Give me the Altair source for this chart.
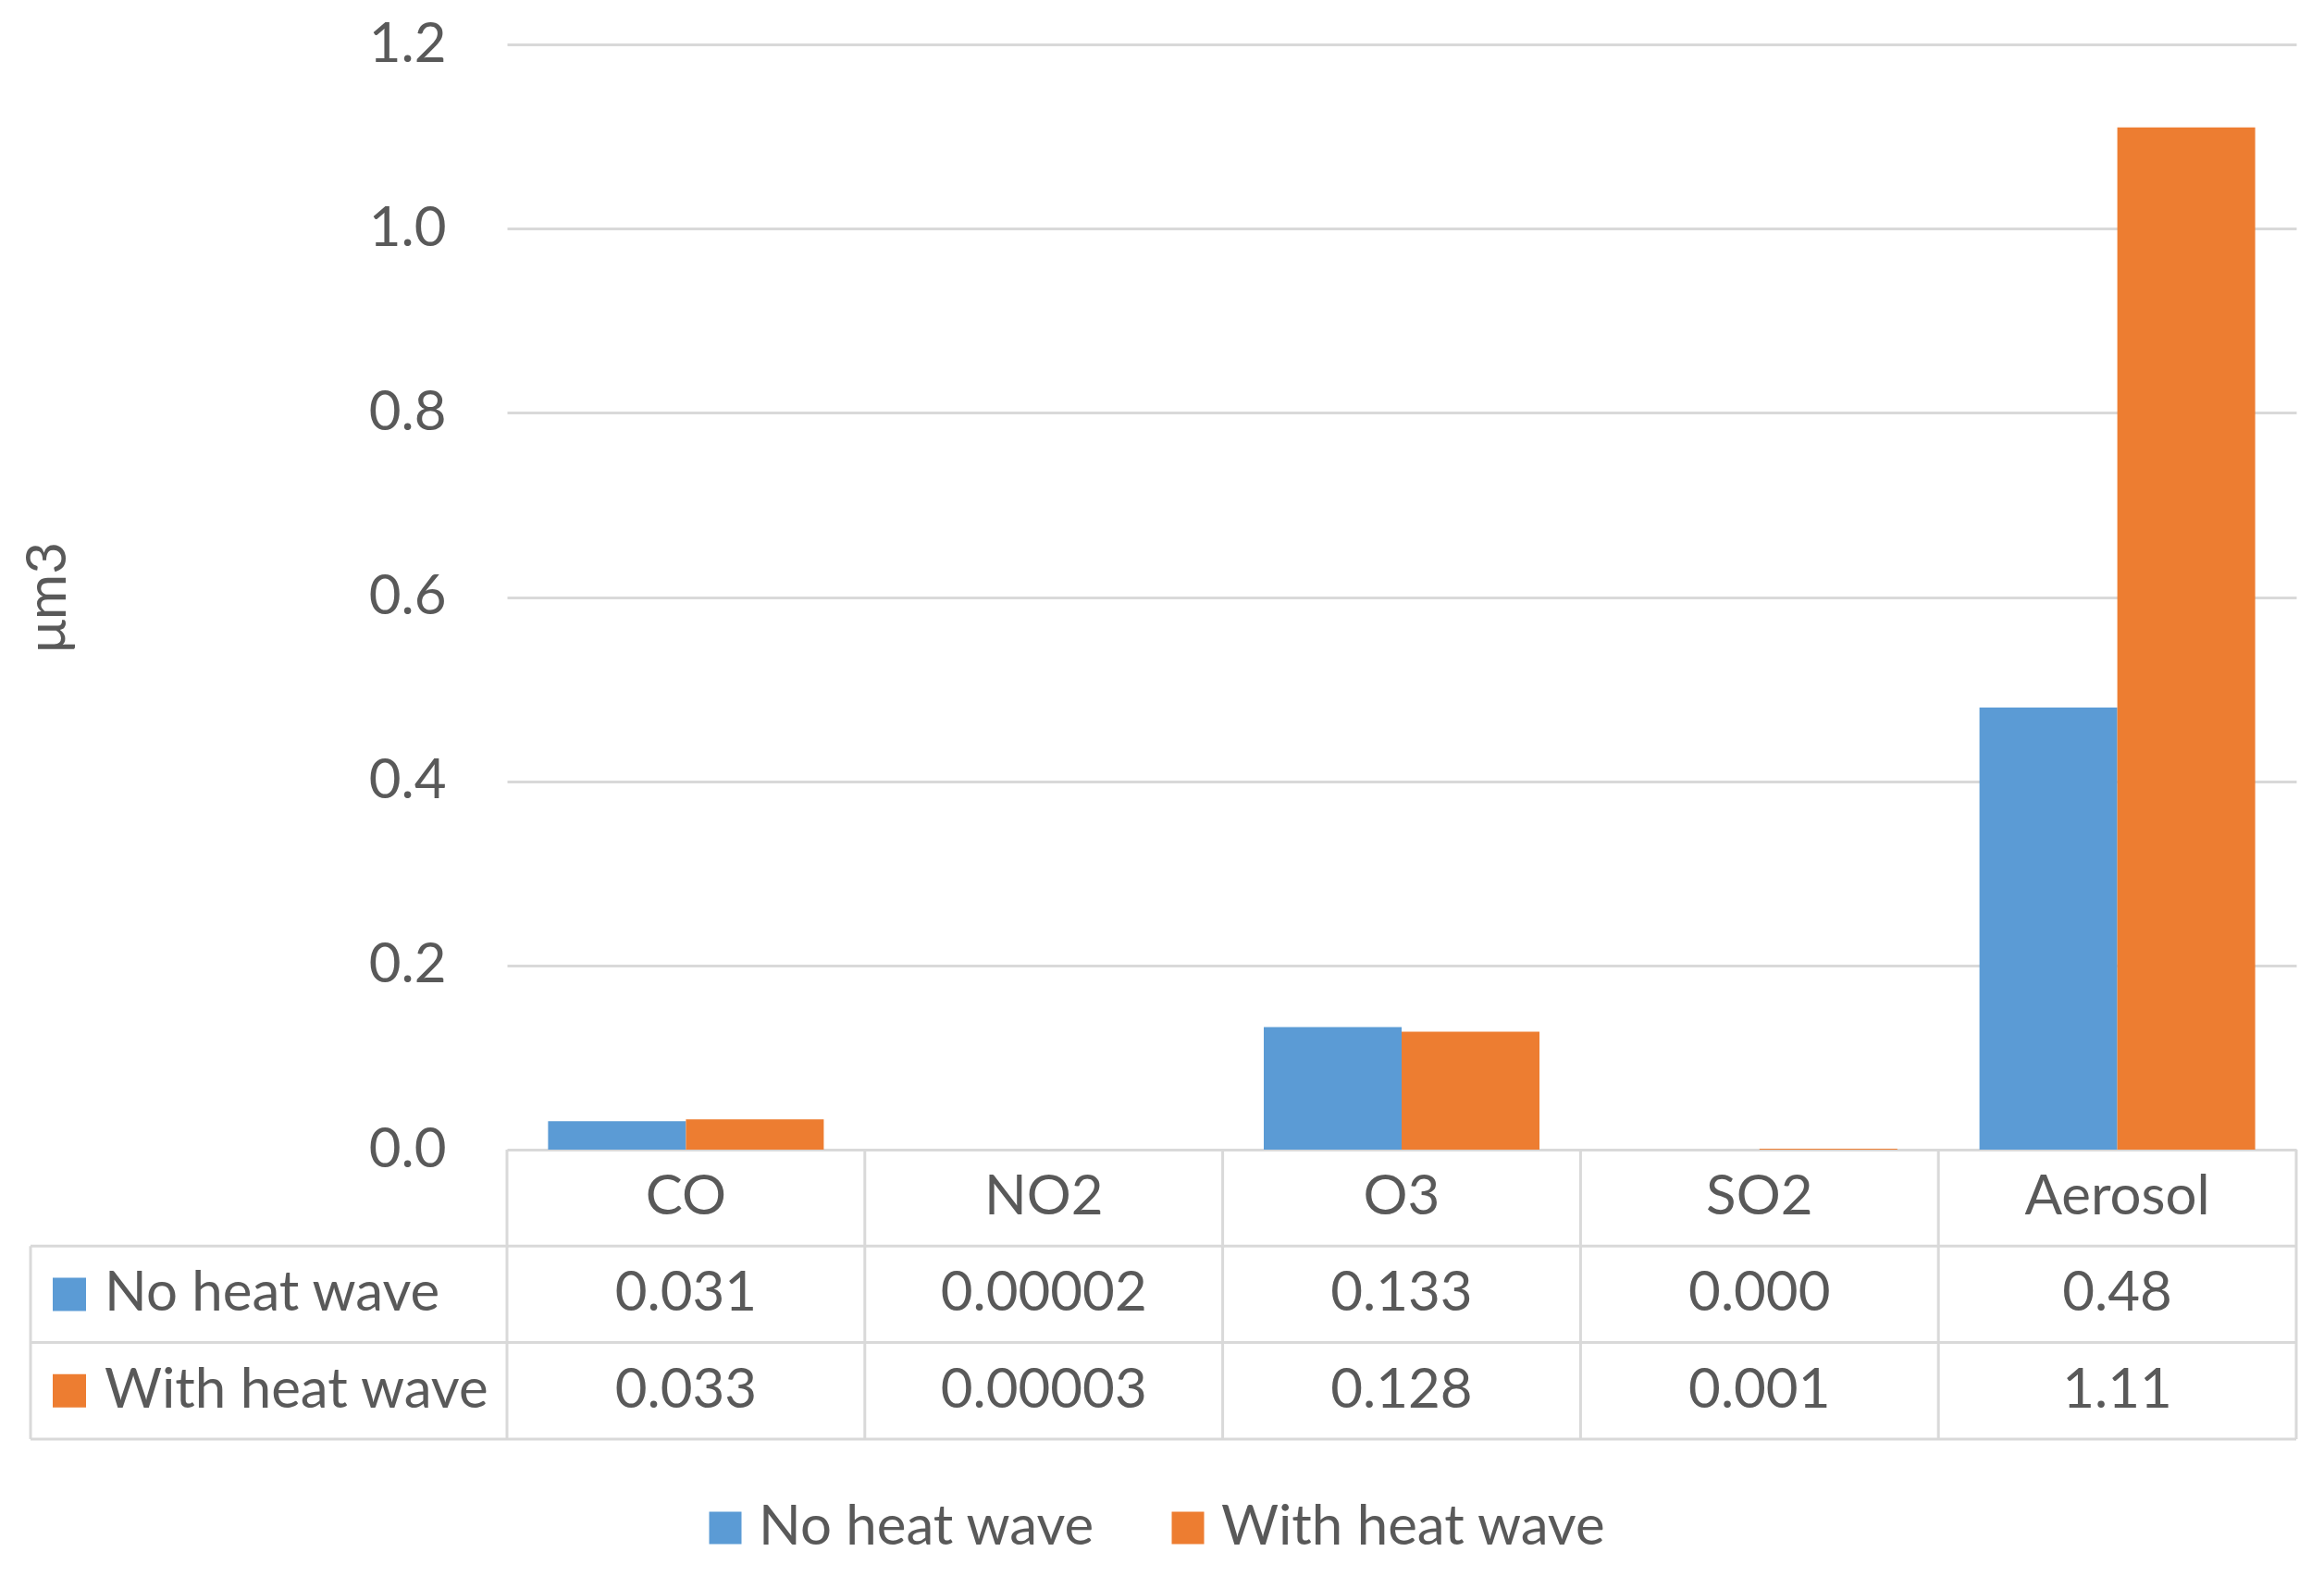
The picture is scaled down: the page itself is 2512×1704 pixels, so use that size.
import altair as alt
import pandas as pd

# ---------------- data ----------------
categories = ["CO", "NO2", "O3", "SO2", "Aerosol"]
series = ["No heat wave", "With heat wave"]
no_heat_values = [0.031, 0.00002, 0.133, 0.000, 0.48]
with_heat_values = [0.033, 0.00003, 0.128, 0.001, 1.11]
no_heat_labels = ["0.031", "0.00002", "0.133", "0.000", "0.48"]
with_heat_labels = ["0.033", "0.00003", "0.128", "0.001", "1.11"]
y_ticks = [0.0, 0.2, 0.4, 0.6, 0.8, 1.0, 1.2]
colors = ["#5B9BD5", "#ED7D31"]

# ---------------- layout constants ----------------
W = 1934
H = 1195
ROW_H = 104.3
TABLE_H = 3 * ROW_H
LEFT_COL = 515
TEXT = "#595959"
GRID = "#D9D9D9"
FONT = "Lato"
FS = 60

rows = ["header"] + series

bars_df = pd.DataFrame({
    "category": categories * 2,
    "series": [series[0]] * len(categories) + [series[1]] * len(categories),
    "value": no_heat_values + with_heat_values,
})

cells_df = pd.DataFrame({
    "category": categories * 3,
    "row": ["header"] * 5 + [series[0]] * 5 + [series[1]] * 5,
    "label": categories + no_heat_labels + with_heat_labels,
})

xscale = alt.Scale(domain=categories, paddingInner=0, paddingOuter=0)
rowscale = alt.Scale(domain=rows, range=[H, H + TABLE_H], paddingInner=0, paddingOuter=0)
cscale = alt.Scale(domain=series, range=colors)

legend = alt.Legend(
    orient="none", legendX=206, legendY=1574, direction="horizontal", title=None,
    symbolType="square", symbolSize=1225, symbolStrokeWidth=0,
    labelFontSize=FS, labelFont=FONT, labelColor=TEXT, labelOffset=6,
    columnPadding=70, padding=0, labelLimit=1000,
)

bars = alt.Chart(bars_df).mark_bar().encode(
    x=alt.X("category:N", scale=xscale, axis=None, sort=categories),
    xOffset=alt.XOffset("series:N", scale=alt.Scale(domain=series, paddingInner=0, paddingOuter=0.298)),
    y=alt.Y(
        "value:Q",
        scale=alt.Scale(domain=[0, 1.2], nice=False),
        axis=alt.Axis(
            values=y_ticks, format=".1f", grid=True, gridColor=GRID, gridWidth=3,
            domain=False, ticks=False, labelFontSize=FS, labelFont=FONT,
            labelColor=TEXT, labelPadding=66, title="μm3", titleFontSize=FS,
            titleFont=FONT, titleFontWeight="normal", titleColor=TEXT,
            titleX=-478, titleY=H / 2, titleBaseline="alphabetic", titleAlign="center",
        ),
    ),
    color=alt.Color("series:N", scale=cscale, legend=legend),
)

vlines = alt.Chart(pd.DataFrame({"category": categories})).mark_rule(color=GRID, strokeWidth=3).encode(
    x=alt.X("category:N", scale=xscale, axis=None, bandPosition=0),
    y=alt.value(H),
    y2=alt.value(H + TABLE_H),
)

right_line = alt.Chart(pd.DataFrame({"category": [categories[-1]]})).mark_rule(color=GRID, strokeWidth=3).encode(
    x=alt.X("category:N", scale=xscale, axis=None, bandPosition=1),
    y=alt.value(H),
    y2=alt.value(H + TABLE_H),
)

hlines = alt.Chart(pd.DataFrame({"row": series})).mark_rule(color=GRID, strokeWidth=3).encode(
    y=alt.Y("row:N", scale=rowscale, axis=None, bandPosition=0),
    x=alt.value(-LEFT_COL),
    x2=alt.value(W),
)

bottom_line = alt.Chart(pd.DataFrame({"row": [series[-1]]})).mark_rule(color=GRID, strokeWidth=3).encode(
    y=alt.Y("row:N", scale=rowscale, axis=None, bandPosition=1),
    x=alt.value(-LEFT_COL),
    x2=alt.value(W),
)

left_line = alt.Chart(pd.DataFrame({"row": [series[0]]})).mark_rule(color=GRID, strokeWidth=3).encode(
    x=alt.value(-LEFT_COL),
    y=alt.value(H + ROW_H),
    y2=alt.value(H + TABLE_H),
)

cell_text = alt.Chart(cells_df).mark_text(
    font=FONT, fontSize=FS, color=TEXT, baseline="middle", align="center"
).encode(
    x=alt.X("category:N", scale=xscale, axis=None),
    y=alt.Y("row:N", scale=rowscale, axis=None),
    text="label:N",
)

row_labels = alt.Chart(pd.DataFrame({"row": series})).mark_text(
    font=FONT, fontSize=FS, color=TEXT, baseline="middle", align="left"
).encode(
    x=alt.value(-435),
    y=alt.Y("row:N", scale=rowscale, axis=None),
    text="row:N",
)

row_squares = alt.Chart(pd.DataFrame({"row": series})).mark_square(size=1296, opacity=1, filled=True).encode(
    x=alt.value(-473),
    y=alt.Y("row:N", scale=rowscale, axis=None),
    color=alt.Color("row:N", scale=cscale, legend=legend),
)

chart = alt.layer(
    bars, vlines, right_line, hlines, bottom_line, left_line, cell_text, row_labels, row_squares
).resolve_scale(y="independent").properties(
    width=W, height=H,
    autosize=alt.AutoSizeParams(type="none"),
    padding={"left": 540, "top": 40, "right": 20, "bottom": 440},
    background="white",
).configure_view(stroke=None)

chart.save("out.html", embed_options={"renderer": "svg", "actions": False})
